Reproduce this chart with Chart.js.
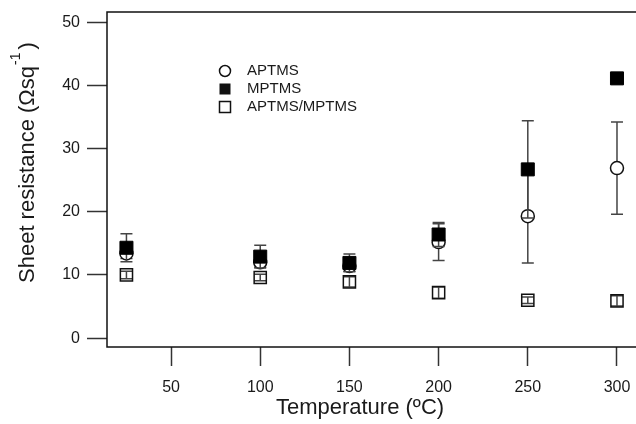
<!DOCTYPE html>
<html>
<head>
<meta charset="utf-8">
<script src="https://cdn.jsdelivr.net/npm/chart.js@4/dist/chart.umd.min.js"></script>
<style>
  html, body { margin: 0; padding: 0; background: #fff; overflow: hidden; }
  #wrap { position: relative; width: 640px; height: 424px; }
  canvas { display: block; }
</style>
</head>
<body>
<div id="wrap"><canvas id="c" width="640" height="424"></canvas></div>
<script>
// Annealing temperature (ºC)
const temperatures = [25, 100, 150, 200, 250, 300];

// Sheet resistance means and standard deviations for each film
const aptms      = [13.4, 12.0, 11.4, 15.2, 19.3, 26.9];
const aptmsErr   = [0.8, 0.8, 0.8, 2.9, 7.4, 7.3];
const mptms      = [14.3, 12.9, 11.9, 16.4, 26.7, 41.1];
const mptmsErr   = [2.2, 1.8, 1.4, 1.9, 7.7, 0.8];
const mixed      = [10.0, 9.6, 8.9, 7.2, 6.0, 5.9];
const mixedErr   = [0.6, 0.5, 0.8, 0.9, 0.5, 0.8];

const seriesNames = ['APTMS', 'MPTMS', 'APTMS/MPTMS'];
const xTicks = [50, 100, 150, 200, 250, 300];
const yTicks = [0, 10, 20, 30, 40, 50];

const FONT = "'Liberation Sans', Arial, sans-serif";
const INK = '#1a1a1a';
const PLOT_RIGHT = 640;   // frame runs just past the page edge

function points(values, errs) {
  return temperatures.map((t, i) => ({ x: t, y: values[i], err: errs[i] }));
}

// Vertical error bars with caps, drawn just before each dataset's markers
const errorBars = {
  id: 'errorBars',
  beforeDatasetDraw(chart, args) {
    const ds = chart.data.datasets[args.index];
    const { ctx, scales: { x, y } } = chart;
    const cap = 6;
    ctx.save();
    ctx.strokeStyle = '#444';
    ctx.lineWidth = 1.5;
    ds.data.forEach(p => {
      const px = x.getPixelForValue(p.x);
      const top = y.getPixelForValue(p.y + p.err);
      const bot = y.getPixelForValue(p.y - p.err);
      ctx.beginPath();
      ctx.moveTo(px, top); ctx.lineTo(px, bot);
      ctx.moveTo(px - cap, top); ctx.lineTo(px + cap, top);
      ctx.moveTo(px - cap, bot); ctx.lineTo(px + cap, bot);
      ctx.stroke();
    });
    ctx.restore();
  }
};

// Frame around the plotting region, axis titles and the inset key
const decorations = {
  id: 'decorations',
  afterDraw(chart) {
    const { ctx, chartArea: a } = chart;
    ctx.save();
    ctx.strokeStyle = '#111';
    ctx.lineWidth = 1.5;
    ctx.strokeRect(a.left, a.top, a.right - a.left, a.bottom - a.top);

    ctx.fillStyle = INK;
    // x title
    ctx.font = '22px ' + FONT;
    ctx.textAlign = 'center';
    ctx.textBaseline = 'middle';
    ctx.fillText('Temperature (ºC)', 360, 408);

    // y title with superscript unit
    ctx.translate(28, 283);
    ctx.rotate(-Math.PI / 2);
    ctx.textAlign = 'left';
    const main = 'Sheet resistance (Ωsq';
    ctx.font = '22px ' + FONT;
    ctx.fillText(main, 0, 0);
    let w = ctx.measureText(main).width;
    ctx.font = '14px ' + FONT;
    ctx.fillText('-1', w + 1, -12);
    w += ctx.measureText('-1').width + 4;
    ctx.font = '22px ' + FONT;
    ctx.fillText(')', w, 0);
    ctx.restore();

    // key
    ctx.save();
    const kx = 225, ky = [71, 89, 107];
    ctx.lineWidth = 1.5;
    ctx.strokeStyle = '#111';
    ctx.fillStyle = '#111';
    ctx.beginPath(); ctx.arc(kx, ky[0], 5.5, 0, Math.PI * 2); ctx.stroke();
    ctx.fillRect(kx - 5.5, ky[1] - 5.5, 11, 11);
    ctx.strokeRect(kx - 5.5, ky[2] - 5.5, 11, 11);
    ctx.fillStyle = INK;
    ctx.font = '15px ' + FONT;
    ctx.textAlign = 'left';
    ctx.textBaseline = 'middle';
    seriesNames.forEach((n, i) => ctx.fillText(n, 247, ky[i]));
    ctx.restore();
  }
};

const chart = new Chart(document.getElementById('c'), {
  type: 'scatter',
  data: {
    datasets: [
      {
        label: seriesNames[0], data: points(aptms, aptmsErr), order: 3,
        pointStyle: 'circle', pointRadius: 6.5, pointHoverRadius: 6.5,
        backgroundColor: '#fff', borderColor: '#111', borderWidth: 1.5
      },
      {
        label: seriesNames[1], data: points(mptms, mptmsErr), order: 2,
        pointStyle: 'rect', pointRadius: 9.2, pointHoverRadius: 9.2,
        backgroundColor: '#000', borderColor: '#000', borderWidth: 1
      },
      {
        label: seriesNames[2], data: points(mixed, mixedErr), order: 1,
        pointStyle: 'rect', pointRadius: 8.6, pointHoverRadius: 8.6,
        backgroundColor: 'rgba(0,0,0,0)', borderColor: '#111', borderWidth: 1.5
      }
    ]
  },
  options: {
    responsive: false,
    animation: false,
    events: [],
    layout: { autoPadding: false, padding: { top: 12, left: 0, right: 0, bottom: 0 } },
    plugins: { legend: { display: false }, tooltip: { enabled: false } },
    scales: {
      x: {
        type: 'linear', min: 14.1, max: 312.9,
        afterFit: s => { s.height = 77; s.paddingLeft = 0; s.paddingRight = 0; },
        afterBuildTicks: s => { s.ticks = xTicks.map(v => ({ value: v })); },
        border: { display: false },
        grid: { drawOnChartArea: false, drawTicks: true, tickLength: 19, tickColor: '#333', tickWidth: 1.5 },
        ticks: { color: INK, font: { family: FONT, size: 16 }, padding: 12, maxRotation: 0 }
      },
      y: {
        type: 'linear', min: -1.4, max: 51.6,
        afterFit: s => { s.width = 107; s.paddingTop = 0; s.paddingBottom = 0; },
        afterBuildTicks: s => { s.ticks = yTicks.map(v => ({ value: v })); },
        border: { display: false },
        grid: { drawOnChartArea: false, drawTicks: true, tickLength: 20, tickColor: '#333', tickWidth: 1.5 },
        ticks: { color: INK, font: { family: FONT, size: 16 }, padding: 7 }
      }
    }
  },
  plugins: [errorBars, decorations]
});

// Stretch the plotting region to the intended right edge if the layout left a gap
const gap = PLOT_RIGHT - chart.chartArea.right;
if (Math.abs(gap) > 0.5) {
  chart.options.layout.padding.right = -gap;
  chart.update();
}
</script>
</body>
</html>
